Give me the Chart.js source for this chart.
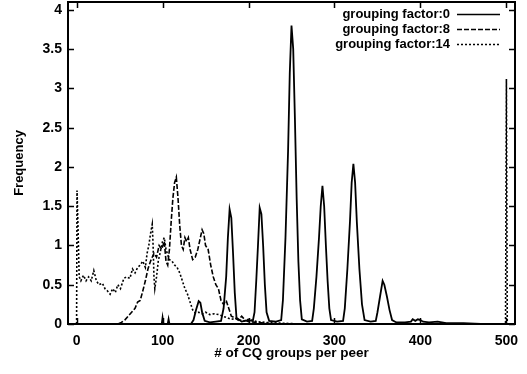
<!DOCTYPE html>
<html>
<head>
<meta charset="utf-8">
<script src="https://cdn.jsdelivr.net/npm/chart.js@4/dist/chart.umd.min.js"></script>
<style>
    html, body { margin: 0; padding: 0; background: #fff; }
    #wrap { width: 527px; height: 374px; }
</style>
</head>
<body>
<div id="wrap"><canvas id="chart" width="527" height="374"></canvas></div>
<script>
// Series: x = # of CQ groups per peer, y = frequency
const gf0X = [0, 60, 99, 100, 101, 106, 107, 108, 133,
    136, 139, 142, 144, 146, 149, 155, 162, 168,
    171, 174, 176, 178, 180, 182, 184, 186, 192, 200, 205,
    207, 209, 211, 213, 215, 217, 219, 221, 224, 232, 238,
    240, 243, 246, 248, 250, 252, 254, 256, 258, 260, 262, 268, 274,
    276, 279, 282, 284, 286, 288, 290, 292, 294, 296, 303, 310,
    312, 315, 318, 320, 322, 324, 326, 329, 332, 335, 342, 348,
    350, 353, 356, 358, 361, 364, 367, 372, 382,
    389, 391, 394, 397, 400, 403, 410, 420, 430, 450, 470, 500];
const gf0Y = [0, 0, 0, 0.08, 0, 0, 0.06, 0, 0,
    0.05, 0.18, 0.29, 0.27, 0.15, 0.04, 0.02, 0.03, 0.04,
    0.2, 0.6, 1.1, 1.46, 1.35, 0.9, 0.4, 0.08, 0.03, 0.05, 0.04,
    0.15, 0.55, 1.0, 1.48, 1.4, 1.0, 0.5, 0.15, 0.04, 0.03, 0.05,
    0.3, 1.1, 2.2, 3.2, 3.8, 3.5, 2.6, 1.6, 0.8, 0.3, 0.06, 0.03, 0.04,
    0.2, 0.6, 1.1, 1.5, 1.76, 1.5, 1.0, 0.55, 0.2, 0.05, 0.03, 0.04,
    0.2, 0.7, 1.3, 1.8, 2.04, 1.8, 1.3, 0.7, 0.25, 0.05, 0.03, 0.04,
    0.15, 0.35, 0.55, 0.5, 0.35, 0.18, 0.05, 0.02, 0.02,
    0.03, 0.06, 0.04, 0.06, 0.05, 0.03, 0.02, 0.03, 0.01, 0.01, 0, 0];

const gf8X = [0, 48, 52, 56, 60, 64, 68, 71, 74, 77, 80, 83, 86, 90, 93, 96, 99,
    102, 104, 106, 108, 110, 112, 114, 116, 118, 120, 122, 124, 126, 128, 130,
    132, 135, 138, 141, 144, 146, 148, 150, 153, 156, 159, 162, 165, 168, 171,
    174, 177, 180, 184, 188, 192, 196, 200, 210, 220, 240, 500];
const gf8Y = [0, 0, 0.02, 0.05, 0.1, 0.15, 0.2, 0.28, 0.3, 0.42, 0.55, 0.7, 0.8, 0.9, 0.85, 1.0, 0.95,
    1.05, 0.8, 0.75, 0.95, 1.3, 1.6, 1.8, 1.87, 1.6, 1.25, 1.0, 0.95, 1.1, 1.05, 1.1,
    0.95, 0.82, 0.85, 0.95, 1.1, 1.2, 1.15, 1.0, 0.95, 0.75, 0.6, 0.5, 0.45, 0.3, 0.25,
    0.3, 0.2, 0.1, 0.08, 0.05, 0.1, 0.05, 0.03, 0.02, 0.01, 0, 0];

const gf14X = [0, 0.5, 1.5, 3, 5, 8, 11, 14, 17, 20, 23, 26, 30, 33, 36, 39, 42, 45, 48, 51,
    55, 58, 62, 65, 68, 71, 74, 77, 80, 82, 84, 86, 88, 89, 90, 91, 93, 95, 98,
    100, 102, 104, 106, 108, 111, 114, 117, 120, 123, 126, 129, 132, 135, 138,
    142, 146, 150, 155, 160, 165, 170, 175, 180, 185, 190, 195, 200, 210, 220,
    240, 260, 499, 500, 501];
const gf14Y = [0, 1.7, 1.3, 0.6, 0.55, 0.62, 0.55, 0.6, 0.55, 0.68, 0.55, 0.5, 0.52, 0.45, 0.42, 0.38, 0.45, 0.4, 0.5, 0.45,
    0.58, 0.6, 0.58, 0.7, 0.65, 0.72, 0.75, 0.8, 0.72, 0.9, 1.0, 1.15, 1.27, 1.0, 0.6, 0.45, 0.6, 0.8, 0.95,
    1.05, 1.1, 0.95, 0.88, 0.82, 0.8, 0.75, 0.72, 0.65, 0.55, 0.45, 0.38, 0.28, 0.18, 0.14,
    0.15, 0.13, 0.15, 0.12, 0.13, 0.12, 0.1, 0.08, 0.06, 0.07, 0.05, 0.04, 0.06, 0.03, 0.02,
    0.01, 0, 0, 3.12, 0];

const seriesNames = ['grouping factor:0', 'grouping factor:8', 'grouping factor:14'];
const seriesDash = [[], [5, 2], [2, 2]];
const xTicks = [0, 100, 200, 300, 400, 500];
const yTicks = [0, 0.5, 1, 1.5, 2, 2.5, 3, 3.5, 4];

function toPoints(xs, ys) {
    return xs.map((x, i) => ({ x: x, y: ys[i] }));
}

// gnuplot style frame: full box with inward ticks on all four sides
const framePlugin = {
    id: 'frame',
    afterDatasetsDraw(chart) {
        const { ctx, chartArea: a, scales } = chart;
        ctx.save();
        ctx.strokeStyle = '#000';
        ctx.lineWidth = 2;
        ctx.strokeRect(a.left, a.top, a.right - a.left, a.bottom - a.top);
        ctx.lineWidth = 1.5;
        ctx.beginPath();
        xTicks.forEach(v => {
            const px = Math.round(scales.x.getPixelForValue(v)) + 0.5;
            ctx.moveTo(px, a.bottom); ctx.lineTo(px, a.bottom - 6);
            ctx.moveTo(px, a.top); ctx.lineTo(px, a.top + 6);
        });
        yTicks.forEach(v => {
            const py = Math.round(scales.y.getPixelForValue(v)) + 0.5;
            ctx.moveTo(a.left, py); ctx.lineTo(a.left + 6, py);
            ctx.moveTo(a.right, py); ctx.lineTo(a.right - 6, py);
        });
        ctx.stroke();

        // key in the top right corner: label first, then the line sample
        ctx.font = 'bold 13px "Liberation Sans", Arial, sans-serif';
        ctx.fillStyle = '#000';
        ctx.textAlign = 'right';
        ctx.textBaseline = 'middle';
        chart.data.datasets.forEach((ds, i) => {
            const y = 14 + i * 15;
            ctx.fillText(ds.label, 450, y);
            ctx.setLineDash(seriesDash[i]);
            ctx.lineWidth = 1.5;
            ctx.beginPath();
            ctx.moveTo(457, y + 0.5);
            ctx.lineTo(500, y + 0.5);
            ctx.stroke();
        });
        ctx.restore();
    }
};

const tickFont = { family: '"Liberation Sans", Arial, sans-serif', size: 14, weight: 'bold' };

function noLabelPadding(scale) {
    scale.paddingTop = 0;
    scale.paddingBottom = 0;
    scale.paddingLeft = 0;
    scale.paddingRight = 0;
}

new Chart(document.getElementById('chart'), {
    type: 'line',
    data: {
        datasets: [
            { label: seriesNames[0], data: toPoints(gf0X, gf0Y), borderDash: seriesDash[0], borderWidth: 1.8 },
            { label: seriesNames[1], data: toPoints(gf8X, gf8Y), borderDash: seriesDash[1], borderWidth: 1.6 },
            { label: seriesNames[2], data: toPoints(gf14X, gf14Y), borderDash: seriesDash[2], borderWidth: 1.6 }
        ].map(ds => Object.assign(ds, {
            borderColor: '#000',
            backgroundColor: '#000',
            pointRadius: 0,
            tension: 0,
            fill: false
        }))
    },
    options: {
        responsive: false,
        animation: false,
        layout: { padding: { top: 2, right: 12, left: 0, bottom: 0 } },
        plugins: { legend: { display: false }, tooltip: { enabled: false } },
        scales: {
            x: {
                type: 'linear',
                min: -10,
                max: 510,
                afterFit(scale) { scale.height = 50; noLabelPadding(scale); },
                afterBuildTicks(scale) { scale.ticks = xTicks.map(v => ({ value: v })); },
                grid: { display: false, drawTicks: false },
                border: { display: false },
                ticks: { color: '#000', font: tickFont, padding: 9, maxRotation: 0, callback: v => String(v) },
                title: {
                    display: true,
                    text: '# of CQ groups per peer',
                    color: '#000',
                    font: { family: '"Liberation Sans", Arial, sans-serif', size: 13.5, weight: 'bold' },
                    padding: { top: 0, bottom: 13 }
                }
            },
            y: {
                type: 'linear',
                min: 0,
                max: 4.1,
                afterFit(scale) { scale.width = 68; noLabelPadding(scale); },
                afterBuildTicks(scale) { scale.ticks = yTicks.map(v => ({ value: v })); },
                grid: { display: false, drawTicks: false },
                border: { display: false },
                ticks: { color: '#000', font: tickFont, padding: 6, callback: v => String(v) },
                title: {
                    display: true,
                    text: 'Frequency',
                    color: '#000',
                    font: { family: '"Liberation Sans", Arial, sans-serif', size: 13, weight: 'bold' },
                    padding: { top: 12, bottom: 0 }
                }
            }
        }
    },
    plugins: [framePlugin]
});
</script>
</body>
</html>
